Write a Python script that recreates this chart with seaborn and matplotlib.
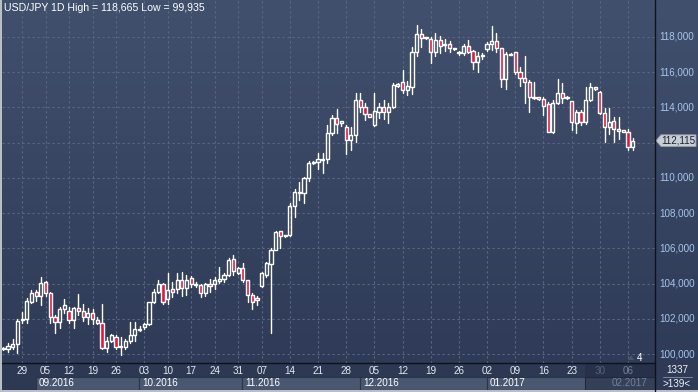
import numpy as np
import pandas as pd
import matplotlib
matplotlib.use('Agg')
import matplotlib.pyplot as plt
import seaborn as sns
from matplotlib.patches import Rectangle, Polygon
from matplotlib.lines import Line2D
from matplotlib.transforms import blended_transform_factory

# ---------------- data ----------------
opens = [100.35, 100.26, 100.42, 100.57, 101.93, 101.97, 102.97, 103.50, 103.30, 104.07,
         103.44, 102.08, 101.80, 102.54, 102.44, 101.93, 102.59, 102.46, 102.12, 102.31,
         101.91, 101.74, 100.36, 100.75, 100.98, 100.45, 100.42, 100.74, 101.08, 101.38,
         101.52, 101.69, 102.97, 103.50, 103.96, 103.10, 103.67, 103.67, 104.23, 103.72,
         104.33, 103.90, 103.90, 103.44, 103.99, 103.99, 104.16, 104.24, 104.48, 105.40,
         104.62, 104.86, 104.20, 103.35, 103.16, 103.88, 104.48, 105.10, 105.90, 106.98,
         106.70, 106.75, 108.40, 109.12, 109.12, 109.98, 110.83, 110.92, 111.03, 111.05,
         112.53, 113.38, 113.13, 112.87, 112.15, 112.42, 114.42, 114.00, 113.60, 113.00,
         113.76, 114.00, 113.76, 114.00, 115.23, 115.46, 114.99, 115.18, 117.13, 118.15,
         117.95, 117.87, 117.13, 117.83, 117.55, 117.59, 117.30, 117.07, 117.07, 117.49,
         117.20, 116.60, 116.92, 117.32, 117.59, 117.77, 117.36, 115.60, 116.98, 117.13,
         116.03, 115.65, 115.43, 114.56, 114.58, 114.46, 114.18, 112.62, 114.27, 114.80,
         114.52, 114.38, 113.13, 113.76, 113.19, 114.42, 115.14, 114.90, 113.70, 112.87,
         113.23, 112.68, 112.72, 112.59, 111.74]
highs = [100.40, 100.60, 100.83, 101.97, 102.40, 103.20, 103.63, 103.63, 104.39, 104.16,
         103.53, 102.21, 102.69, 103.11, 102.69, 102.65, 103.40, 102.82, 102.59, 102.54,
         102.12, 102.84, 100.98, 101.13, 101.06, 100.95, 100.83, 101.83, 101.83, 101.60,
         101.74, 102.97, 103.69, 104.20, 104.05, 104.58, 104.10, 104.58, 104.67, 104.48,
         104.42, 104.10, 104.00, 104.05, 104.24, 104.39, 104.96, 104.60, 105.43, 105.62,
         104.95, 105.15, 104.20, 103.44, 103.30, 104.67, 105.25, 106.00, 106.96, 106.98,
         106.78, 108.59, 109.35, 109.75, 110.07, 110.97, 110.95, 111.39, 111.39, 113.00,
         113.57, 113.90, 113.23, 113.00, 112.87, 114.80, 114.84, 114.23, 113.62, 114.84,
         114.23, 114.42, 114.28, 115.37, 115.37, 116.13, 115.50, 117.42, 118.665, 118.45,
         118.00, 118.02, 118.21, 118.06, 117.87, 117.75, 117.36, 117.22, 117.60, 117.83,
         117.26, 117.17, 117.10, 117.70, 118.62, 118.21, 117.36, 117.17, 117.08, 117.13,
         116.31, 116.92, 115.56, 115.46, 114.62, 114.61, 114.33, 114.42, 115.60, 115.40,
         114.66, 114.38, 113.85, 113.85, 115.14, 115.37, 115.14, 114.95, 113.95, 113.95,
         113.48, 113.48, 112.72, 112.76, 112.25]
lows = [100.25, 100.13, 100.26, 100.07, 101.74, 101.76, 102.88, 103.00, 102.78, 103.30,
        101.78, 101.21, 101.46, 102.31, 101.74, 101.46, 102.21, 101.87, 101.68, 101.68,
        101.70, 100.27, 100.13, 100.70, 100.27, 99.935, 100.27, 100.64, 100.75, 101.33,
        101.42, 101.66, 102.91, 103.44, 102.84, 102.84, 103.22, 103.44, 103.30, 103.35,
        103.82, 103.82, 103.22, 103.30, 103.53, 103.67, 104.05, 104.10, 104.42, 104.48,
        104.55, 104.10, 102.97, 102.55, 102.80, 103.82, 104.40, 101.21, 105.90, 106.04,
        106.65, 106.70, 107.80, 108.74, 108.56, 109.80, 110.80, 110.48, 110.26, 110.86,
        112.45, 112.57, 112.95, 111.34, 111.60, 112.05, 113.76, 113.29, 113.45, 112.95,
        113.40, 113.34, 113.13, 113.95, 115.18, 114.84, 114.70, 114.76, 116.92, 117.45,
        117.88, 116.54, 116.92, 117.11, 117.22, 117.17, 117.26, 117.00, 117.00, 117.07,
        116.18, 116.03, 116.75, 117.22, 117.26, 117.17, 115.18, 115.05, 116.95, 115.92,
        115.23, 114.23, 113.76, 114.50, 114.40, 113.57, 112.62, 112.55, 114.20, 114.23,
        114.50, 112.72, 112.53, 112.98, 113.05, 114.38, 114.98, 113.65, 112.05, 112.50,
        112.05, 112.20, 112.59, 111.58, 111.58]
closes = [100.30, 100.47, 100.57, 101.87, 102.00, 103.00, 103.44, 103.30, 104.01, 103.44,
          102.08, 101.80, 102.54, 102.78, 101.93, 102.59, 102.46, 102.12, 102.31, 101.97,
          101.74, 100.36, 100.75, 101.06, 100.38, 100.38, 100.74, 101.08, 101.42, 101.42,
          101.69, 102.97, 103.50, 103.96, 102.94, 103.63, 103.53, 104.23, 103.72, 104.20,
          103.97, 103.99, 103.44, 103.97, 103.86, 104.20, 104.26, 104.48, 105.34, 104.73,
          104.86, 104.20, 103.35, 102.97, 103.05, 104.58, 105.18, 105.90, 106.94, 106.72,
          106.75, 108.40, 109.18, 109.18, 109.98, 110.83, 110.92, 111.05, 111.07, 112.53,
          113.38, 113.04, 113.23, 112.15, 112.42, 114.42, 114.00, 113.60, 113.47, 113.80,
          114.00, 113.76, 114.00, 115.27, 115.33, 114.99, 115.22, 117.13, 118.15, 117.93,
          117.93, 117.13, 117.83, 117.51, 117.60, 117.36, 117.34, 117.10, 117.49, 117.17,
          116.60, 116.92, 116.98, 117.60, 117.77, 117.36, 115.60, 117.03, 117.03, 116.03,
          115.65, 115.43, 114.58, 114.58, 114.46, 114.10, 112.62, 114.27, 114.80, 114.52,
          114.61, 113.19, 113.76, 113.19, 114.42, 115.14, 115.05, 113.70, 112.87, 113.19,
          112.76, 112.78, 112.59, 111.74, 112.115]

day_labels = ['29', '05', '12', '19', '26', '03', '10', '17', '24', '31', '07', '14',
              '21', '28', '05', '12', '19', '26', '02', '09', '16', '23', '30', '06']
day_label_idx = [4, 9, 14, 19, 24, 30, 35, 40, 45, 50, 55, 61,
                 67, 73, 79, 85, 91, 97, 103, 109, 115, 121, 127, 133]
month_labels = ['09.2016', '10.2016', '11.2016', '12.2016', '01.2017', '02.2017']
month_start_idx = [7, 29, 51, 76, 103, 129]
price_ticks = [100, 102, 104, 106, 108, 110, 112, 114, 116, 118]
title_text = 'USD/JPY 1D High = 118,665 Low = 99,935'
corner_top = '1337'
corner_bottom = '>139<'
marker_count = '4'

# ---------------- style ----------------
sns.set_theme(style='dark')
plt.rcParams['font.family'] = ['Liberation Sans', 'DejaVu Sans']

W, H = 698, 392
FS = 7.1
fig = plt.figure(figsize=(W / 100, H / 100), dpi=100)


def fx(px):
    return px / W


def fy(py):
    return 1 - py / H


# gradient background over whole figure
bg = fig.add_axes([0, 0, 1, 1])
bg.axis('off')
top_c = np.array([0x41, 0x50, 0x6d]) / 255
bot_c = np.array([0x2d, 0x39, 0x55]) / 255
g = np.linspace(0, 1, 256)[:, None, None]
img = top_c[None, None, :] + (bot_c - top_c)[None, None, :] * g
bg.imshow(img, aspect='auto', extent=[0, 1, 0, 1], origin='upper')
bg.set_xlim(0, 1)
bg.set_ylim(0, 1)

# main price axes
L, R, T, B = 2, 655, 0, 363
ax = fig.add_axes([fx(L), fy(B), fx(R) - fx(L), fy(T) - fy(B)])
ax.set_facecolor('none')
n = len(closes)
ax.set_xlim(-0.28, 138.75)
ax.set_ylim(99.49, 120.10)
for s in ax.spines.values():
    s.set_visible(False)
ax.set_xticks([])
ax.set_yticks([])
ax.grid(False)

grid_c = '#5a6884'
for p in price_ticks:
    ax.axhline(p, color=grid_c, lw=0.8, ls=(0, (2, 2.5)), zorder=1)
for i in day_label_idx:
    ax.axvline(i, color=grid_c, lw=0.8, ls=(0, (2, 2.5)), zorder=1)

# wicks via seaborn lineplot (upper and lower wick as separate units)
rows = []
for i, (o, h, l, c) in enumerate(zip(opens, highs, lows, closes)):
    tb, bb = max(o, c), min(o, c)
    rows.append(dict(x=i, y=h, u=2 * i))
    rows.append(dict(x=i, y=tb, u=2 * i))
    rows.append(dict(x=i, y=bb, u=2 * i + 1))
    rows.append(dict(x=i, y=l, u=2 * i + 1))
wdf = pd.DataFrame(rows)
sns.lineplot(data=wdf, x='x', y='y', units='u', estimator=None, sort=False,
             color='white', lw=1.0, ax=ax, legend=False, zorder=3)
ax.set_xlabel('')
ax.set_ylabel('')

# bodies
idx = np.arange(n)
o_arr = np.array(opens)
c_arr = np.array(closes)
bottoms = np.minimum(o_arr, c_arr)
heights = np.maximum(np.abs(c_arr - o_arr), 0.06)
faces = ['#e2173d' if c < o else 'none' for o, c in zip(opens, closes)]
ax.bar(idx, heights, bottom=bottoms, width=0.68, color=faces,
       edgecolor='white', linewidth=1.0, zorder=4)

# right price labels (the one under the last-price tag is hidden, as in the reference)
last = closes[-1]
ytr = ax.get_yaxis_transform()
for p in price_ticks:
    if abs(p - last) < 0.6:
        continue
    ax.text((659 - L) / (R - L), p, f'{p:.3f}'.replace('.', ','), transform=ytr,
            ha='left', va='center', color='#a6c6ec', fontsize=FS, clip_on=False)

# last price tag
hh = 5.8 / 17.61
xa = lambda px: (px - L) / (R - L)
tag = Polygon([(xa(656), last), (xa(661), last + hh), (xa(696), last + hh),
               (xa(696), last - hh), (xa(661), last - hh)], closed=True,
              transform=ytr, facecolor='#c8ccd3', edgecolor='#9aa0aa', lw=0.6,
              clip_on=False, zorder=6)
ax.add_patch(tag)
ax.text(xa(678), last, f'{last:.3f}'.replace('.', ','), transform=ytr,
        ha='center', va='center', color='#1a2232', fontsize=FS, clip_on=False, zorder=7)

# title
fig.text(fx(4), fy(8), title_text, ha='left', va='center', color='white', fontsize=7.6)

# count marker
fig.text(fx(640), fy(358), marker_count, ha='center', va='center', color='white', fontsize=FS)
fig.patches.append(Polygon([(fx(628), fy(360)), (fx(634), fy(360)), (fx(631), fy(355))],
                           closed=True, transform=fig.transFigure,
                           facecolor='#4b5569', edgecolor='none'))

# ---------------- bottom date axis ----------------
axb = fig.add_axes([fx(L), 0, fx(R) - fx(L), fy(B)])
axb.set_xlim(ax.get_xlim())
axb.set_ylim(392, 363)
axb.set_facecolor('#2d3953')
for s in axb.spines.values():
    s.set_visible(False)
axb.set_xticks([])
axb.set_yticks([])
axb.grid(False)

edges = [m - 0.1 for m in month_start_idx] + [ax.get_xlim()[1] + 1]
for k, lab in enumerate(month_labels):
    axb.add_patch(Rectangle((edges[k], 377), edges[k + 1] - edges[k], 13,
                            facecolor='#4a5771', edgecolor='#2a344b', lw=0.8, zorder=1))

# dark overlay at the right end
ov_x = (585 - 3.3) / 4.697
axb.add_patch(Rectangle((ov_x, 363), 200, 14, facecolor='#273149', edgecolor='none', zorder=2))
axb.add_patch(Rectangle((ov_x, 377), 200, 13, facecolor='#343f58', edgecolor='#20283a',
                        lw=0.8, zorder=2))

for i, lab in zip(day_label_idx, day_labels):
    col = '#e4e9f2' if i < ov_x else ('#56627c' if i < 130 else '#75819a')
    axb.text(i, 371, lab, ha='center', va='center', color=col, fontsize=FS, zorder=3)
for k, lab in enumerate(month_labels):
    col = 'white' if edges[k] < ov_x else '#75819a'
    axb.text(edges[k] + 0.7, 383.5, lab, ha='left', va='center', color=col,
             fontsize=FS, zorder=3)

# bottom-right corner panel
fig.patches.append(Rectangle((fx(655), 0), 1 - fx(655), fy(363), transform=fig.transFigure,
                             facecolor='#2f3b56', edgecolor='none'))
fig.text(fx(677), fy(370), corner_top, ha='center', va='center', color='#eef2f8', fontsize=FS)
fig.text(fx(677), fy(384), corner_bottom, ha='center', va='center', color='#eef2f8', fontsize=FS)
fig.lines.append(Line2D([fx(663), fx(692)], [fy(377), fy(377)], transform=fig.transFigure,
                        color='#7e889c', lw=0.7))

# frame lines
fig.lines.append(Line2D([fx(655), fx(655)], [0, 1], transform=fig.transFigure,
                        color='#0e121a', lw=1.0))
fig.lines.append(Line2D([fx(2), fx(655)], [fy(363), fy(363)], transform=fig.transFigure,
                        color='#0e121a', lw=1.0))
fig.patches.append(Rectangle((0, 0), fx(2), 1, transform=fig.transFigure,
                             facecolor='#b9bec7', edgecolor='none'))
fig.patches.append(Rectangle((0, 0), 1, 2 / H, transform=fig.transFigure,
                             facecolor='#b9bec7', edgecolor='none'))

fig.savefig('out.png', dpi=100)
